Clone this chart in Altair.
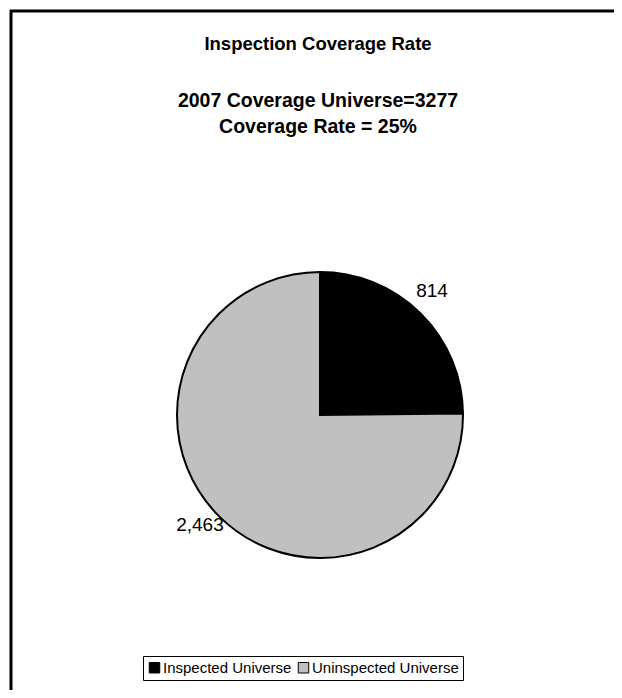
import altair as alt
import pandas as pd

categories = ["Inspected Universe", "Uninspected Universe"]
values = [814, 2463]
labels = ["814", "2,463"]
colors = ["#000000", "#C0C0C0"]
title_lines = ["Inspection Coverage Rate", "2007 Coverage Universe=3277", "Coverage Rate = 25%"]

FONT = "Liberation Sans"
W, H = 606, 682
CX, CY, R = 310, 405, 143

df = pd.DataFrame({"category": categories, "value": values, "label": labels,
                   "order": list(range(len(categories)))})

color_scale = alt.Scale(domain=categories, range=colors)

pie = alt.Chart(df).mark_arc(stroke="#000000", strokeWidth=2, radius=R).encode(
    theta=alt.Theta("value:Q", stack=True),
    order=alt.Order("order:Q"),
    x=alt.value(CX), y=alt.value(CY),
    color=alt.Color("category:N", scale=color_scale, sort=categories,
                    legend=alt.Legend(
                        title=None, orient="none", legendX=133, legendY=646,
                        direction="horizontal", symbolType="square", symbolSize=110,
                        symbolStrokeColor="#000000", symbolStrokeWidth=1,
                        labelFont=FONT, labelFontSize=15, labelColor="#000000",
                        labelOffset=1, columnPadding=4, padding=4,
                        strokeColor="#000000", fillColor="#FFFFFF")),
)

text = alt.Chart(df).mark_text(font=FONT, fontSize=19, color="#000000", radius=165,
                               dx=-4, dy=-7).encode(
    theta=alt.Theta("value:Q", stack=True),
    order=alt.Order("order:Q"),
    x=alt.value(CX), y=alt.value(CY),
    text="label:N",
)

tdf = pd.DataFrame({"t": title_lines, "i": [0, 1, 2]})
TX = W / 2 + 5
t1 = alt.Chart(tdf.iloc[[0]]).mark_text(font=FONT, fontSize=18.5, fontWeight="bold", color="#000000").encode(
    text="t:N", x=alt.value(TX), y=alt.value(34))
t2 = alt.Chart(tdf.iloc[[1]]).mark_text(font=FONT, fontSize=19.5, fontWeight="bold", color="#000000").encode(
    text="t:N", x=alt.value(TX), y=alt.value(91))
t3 = alt.Chart(tdf.iloc[[2]]).mark_text(font=FONT, fontSize=19.5, fontWeight="bold", color="#000000").encode(
    text="t:N", x=alt.value(TX), y=alt.value(117))

top_line = alt.Chart(tdf.iloc[[0]]).mark_rule(color="#000000", strokeWidth=3).encode(
    x=alt.value(0), x2=alt.value(W), y=alt.value(1))
left_line = alt.Chart(tdf.iloc[[0]]).mark_rule(color="#000000", strokeWidth=3).encode(
    x=alt.value(1), y=alt.value(0), y2=alt.value(H))

chart = alt.layer(top_line, left_line, pie, text, t1, t2, t3).properties(
    width=W, height=H,
    autosize=alt.AutoSizeParams(type="fit", contains="padding"),
    padding=0,
    background="#FFFFFF",
).configure_view(stroke=None)

chart.save("out.html", embed_options={"renderer": "svg", "actions": False})
